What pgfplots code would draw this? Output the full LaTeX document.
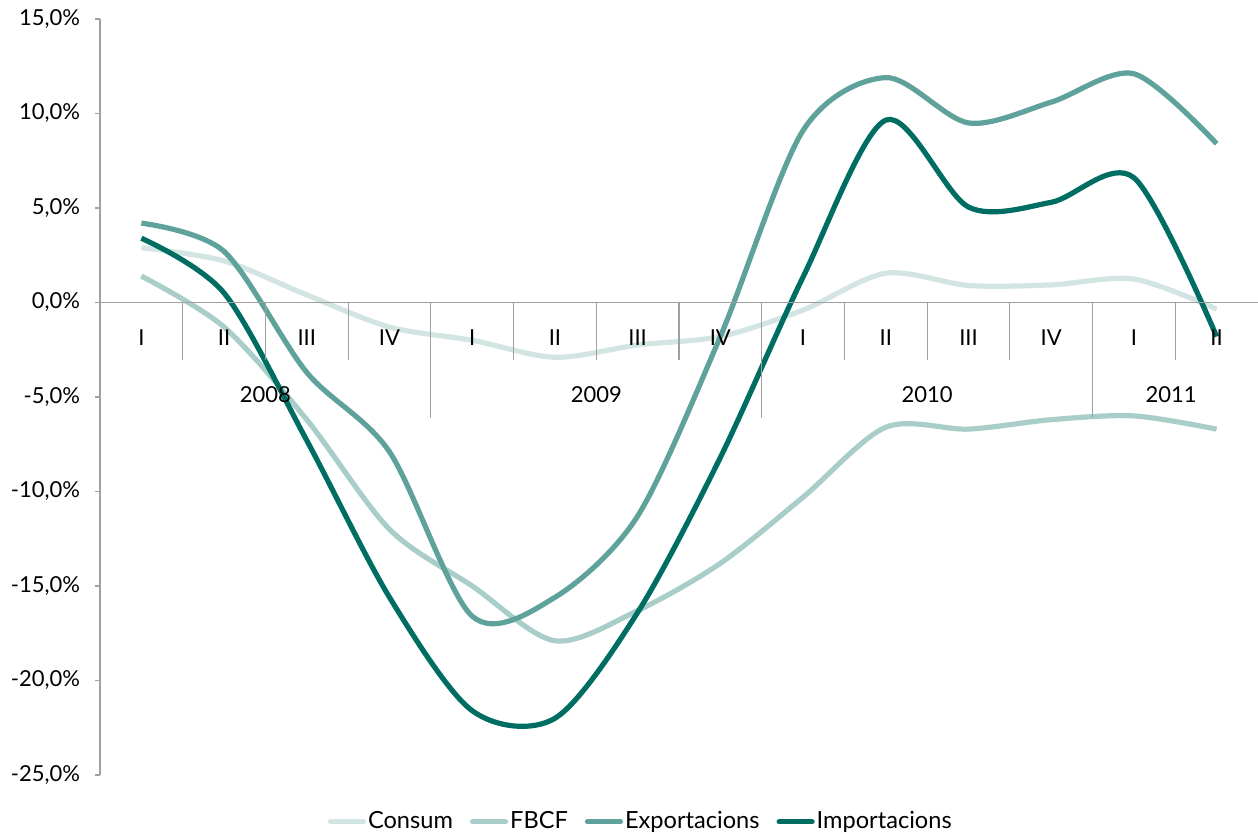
\documentclass[border=0pt]{standalone}
\usepackage{pgfplots}
\pgfplotsset{compat=1.18}
\usepackage{fontspec}
\setmainfont{Lato}
\definecolor{ConsumColor}{HTML}{D2E5E3}
\definecolor{FbcfColor}{HTML}{A9CECA}
\definecolor{ExpColor}{HTML}{5EA29B}
\definecolor{ImpColor}{HTML}{006D63}
\definecolor{AxisGray}{HTML}{A0A0A0}

\begin{document}
\begin{tikzpicture}
\begin{axis}[
    scale only axis,
    width=579pt,
    height=378pt,
    xmin=-0.5, xmax=13.5,
    ymin=-25, ymax=15,
    ytick={-25,-20,...,15},
    axis y line*=left,
    axis x line=none,
    y axis line style={draw=AxisGray, line width=0.6pt},
    ytick style={draw=AxisGray, line width=0.6pt},
    tick align=outside,
    major tick length=2.5pt,
    yticklabel={\pgfmathprintnumber[fixed,fixed zerofill,precision=1,use comma]{\tick}\%},
    /pgf/number format/assume math mode=true,
    tick label style={font=\fontsize{11}{13}\selectfont},
    yticklabel style={xshift=-4pt},
    legend style={
      at={(0.467,-0.062)}, anchor=center,
      draw=none, fill=none,
      font=\fontsize{11.8}{14}\selectfont,
      legend columns=4,
      nodes={inner xsep=1pt, inner ysep=0pt},
      /tikz/every even column/.append style={column sep=7.5pt},
      inner sep=0pt
    },
    legend image code/.code={
      \draw[#1, line cap=round] (0pt,0pt) -- (16.5pt,0pt);
    },
    every axis plot/.append style={line width=2.6pt, smooth, no markers},
]
\addplot[ConsumColor] coordinates {
  (0,2.9) (1,2.2) (2,0.4) (3,-1.3) (4,-2.0) (5,-2.9) (6,-2.25)
  (7,-1.8) (8,-0.4) (9,1.55) (10,0.9) (11,0.93) (12,1.24) (13,-0.35)};
\addplot[FbcfColor] coordinates {
  (0,1.4) (1,-1.3) (2,-6.2) (3,-12.0) (4,-15.0) (5,-17.9) (6,-16.3)
  (7,-13.8) (8,-10.3) (9,-6.6) (10,-6.7) (11,-6.2) (12,-6.0) (13,-6.7)};
\addplot[ExpColor] coordinates {
  (0,4.2) (1,2.7) (2,-3.7) (3,-7.9) (4,-16.6) (5,-15.6) (6,-11.3)
  (7,-1.8) (8,9.1) (9,11.9) (10,9.5) (11,10.6) (12,12.1) (13,8.4)};
\addplot[ImpColor] coordinates {
  (0,3.4) (1,0.5) (2,-7.3) (3,-15.6) (4,-21.6) (5,-22.0) (6,-16.4)
  (7,-8.2) (8,1.35) (9,9.65) (10,5.05) (11,5.3) (12,6.6) (13,-1.8)};
\legend{Consum, FBCF, Exportacions, Importacions}

% zero line and category separators
\draw[AxisGray, line width=0.6pt] (axis cs:-0.5,0) -- (axis cs:13.5,0);
\pgfplotsinvokeforeach{0.5,1.5,2.5,4.5,5.5,6.5,8.5,9.5,10.5,12.5}{
  \draw[AxisGray, line width=0.6pt] (axis cs:#1,0) -- (axis cs:#1,-3.05);
}
\pgfplotsinvokeforeach{3.5,7.5,11.5}{
  \draw[AxisGray, line width=0.6pt] (axis cs:#1,0) -- (axis cs:#1,-6.1);
}
\node[font=\fontsize{11}{13}\selectfont] at (axis cs:0,-1.85) {I};
\node[font=\fontsize{11}{13}\selectfont] at (axis cs:1,-1.85) {II};
\node[font=\fontsize{11}{13}\selectfont] at (axis cs:2,-1.85) {III};
\node[font=\fontsize{11}{13}\selectfont] at (axis cs:3,-1.85) {IV};
\node[font=\fontsize{11}{13}\selectfont] at (axis cs:4,-1.85) {I};
\node[font=\fontsize{11}{13}\selectfont] at (axis cs:5,-1.85) {II};
\node[font=\fontsize{11}{13}\selectfont] at (axis cs:6,-1.85) {III};
\node[font=\fontsize{11}{13}\selectfont] at (axis cs:7,-1.85) {IV};
\node[font=\fontsize{11}{13}\selectfont] at (axis cs:8,-1.85) {I};
\node[font=\fontsize{11}{13}\selectfont] at (axis cs:9,-1.85) {II};
\node[font=\fontsize{11}{13}\selectfont] at (axis cs:10,-1.85) {III};
\node[font=\fontsize{11}{13}\selectfont] at (axis cs:11,-1.85) {IV};
\node[font=\fontsize{11}{13}\selectfont] at (axis cs:12,-1.85) {I};
\node[font=\fontsize{11}{13}\selectfont] at (axis cs:13,-1.85) {II};
\node[font=\fontsize{11}{13}\selectfont] at (axis cs:1.5,-4.85) {2008};
\node[font=\fontsize{11}{13}\selectfont] at (axis cs:5.5,-4.85) {2009};
\node[font=\fontsize{11}{13}\selectfont] at (axis cs:9.5,-4.85) {2010};
\node[font=\fontsize{11}{13}\selectfont] at (axis cs:12.45,-4.85) {2011};
\end{axis}
\pgfresetboundingbox
\path ([xshift=-50pt,yshift=-29.5pt]current axis.south west)
  rectangle ([yshift=9.5pt]current axis.north east);
\end{tikzpicture}
\end{document}
